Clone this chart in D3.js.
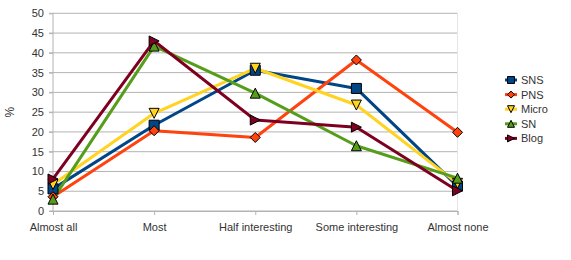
<!DOCTYPE html>
<html>
<head>
<meta charset="utf-8">
<script src="https://cdn.jsdelivr.net/npm/d3@7"></script>
<style>
  body { margin: 0; background: #fff; }
  text { font-family: "Liberation Sans", Arial, sans-serif; fill: #333; }
</style>
</head>
<body>
<svg id="chart" width="571" height="260"></svg>
<script>
// categories and series values
const categories = ['Almost all', 'Most', 'Half interesting', 'Some interesting', 'Almost none'];
const seriesNames = ['SNS', 'PNS', 'Micro', 'SN', 'Blog'];
const sns = [5.6, 21.7, 35.6, 31.0, 6.3];
const pns = [3.6, 20.3, 18.6, 38.2, 19.9];
const micro = [6.7, 24.7, 36.1, 26.8, 7.0];
const sn = [3.0, 41.7, 29.8, 16.5, 8.3];
const blog = [8.1, 43.0, 23.0, 21.2, 5.1];
const yTicks = [0, 5, 10, 15, 20, 25, 30, 35, 40, 45, 50];

const seriesValues = [sns, pns, micro, sn, blog];
const colors = ['#004586', '#ff420e', '#ffd320', '#579d1c', '#7e0021'];
const shapes = ['square', 'diamond', 'down', 'up', 'right'];

const svg = d3.select('#chart');

// plot area
const plotLeft = 53, plotRight = 457.5, plotTop = 13.3, plotBottom = 211;

const x = d3.scalePoint().domain(categories).range([plotLeft, plotRight]);
const y = d3.scaleLinear().domain([0, 50]).range([plotBottom, plotTop]);

// horizontal grid lines
svg.append('g').selectAll('line').data(yTicks).join('line')
  .attr('x1', plotLeft - 4).attr('x2', plotRight)
  .attr('y1', d => y(d)).attr('y2', d => y(d))
  .attr('stroke', '#b3b3b3').attr('stroke-width', 1);

// faint right border
svg.append('line').attr('x1', plotRight).attr('x2', plotRight).attr('y1', plotTop).attr('y2', plotBottom)
  .attr('stroke', '#e6e6e6');

// y axis
const yAxis = d3.axisLeft(y).tickValues(yTicks).tickSize(4).tickPadding(5);
const gy = svg.append('g').attr('transform', 'translate(' + plotLeft + ',0)').call(yAxis);
gy.select('.domain').attr('stroke', '#b3b3b3').attr('d', 'M0,' + plotTop + 'V' + plotBottom);
gy.selectAll('.tick line').attr('stroke', '#b3b3b3');
gy.selectAll('.tick text').attr('font-size', 11).attr('fill', '#333').attr('font-family', '"Liberation Sans", Arial, sans-serif');

// x axis
const xAxis = d3.axisBottom(x).tickSize(4).tickPadding(8);
const gx = svg.append('g').attr('transform', 'translate(0,' + plotBottom + ')').call(xAxis);
gx.select('.domain').attr('stroke', '#b3b3b3');
gx.selectAll('.tick line').attr('stroke', '#b3b3b3');
gx.selectAll('.tick text').attr('font-size', 11).attr('fill', '#333').attr('font-family', '"Liberation Sans", Arial, sans-serif');

// y title
svg.append('text').attr('transform', 'translate(14,' + ((plotTop + plotBottom) / 2) + ') rotate(-90)')
  .attr('text-anchor', 'middle').attr('font-size', 12).text('%');

// marker path for a shape, centred at 0,0
function markerPath(shape, s) {
  const h = s / 2;
  if (shape === 'square') return 'M' + (-h) + ',' + (-h) + 'H' + h + 'V' + h + 'H' + (-h) + 'Z';
  if (shape === 'diamond') return 'M0,' + (-h) + 'L' + h + ',0L0,' + h + 'L' + (-h) + ',0Z';
  if (shape === 'down') return 'M' + (-h) + ',' + (-h) + 'H' + h + 'L0,' + h + 'Z';
  if (shape === 'up') return 'M' + (-h) + ',' + h + 'H' + h + 'L0,' + (-h) + 'Z';
  return 'M' + (-h) + ',' + (-h) + 'L' + h + ',0L' + (-h) + ',' + h + 'Z';
}

const line = d3.line().x((d, i) => x(categories[i])).y(d => y(d));

// lines
seriesValues.forEach((vals, k) => {
  svg.append('path').datum(vals).attr('d', line)
    .attr('fill', 'none').attr('stroke', colors[k]).attr('stroke-width', 3)
    .attr('stroke-linejoin', 'round');
});

// markers
seriesValues.forEach((vals, k) => {
  svg.append('g').selectAll('path').data(vals).join('path')
    .attr('transform', (d, i) => 'translate(' + x(categories[i]) + ',' + y(d) + ')')
    .attr('d', markerPath(shapes[k], 10))
    .attr('fill', colors[k]).attr('stroke', '#000').attr('stroke-width', 1);
});

// legend
const legend = svg.append('g').attr('transform', 'translate(511,80)');
seriesNames.forEach((name, k) => {
  const row = legend.append('g').attr('transform', 'translate(0,' + (k * 14.6) + ')');
  row.append('line').attr('x1', -6).attr('x2', 6).attr('y1', 0).attr('y2', 0)
    .attr('stroke', colors[k]).attr('stroke-width', 3);
  row.append('path').attr('d', markerPath(shapes[k], 7))
    .attr('fill', colors[k]).attr('stroke', '#000').attr('stroke-width', 1);
  row.append('text').attr('x', 10).attr('y', 4).attr('font-size', 11).text(name);
});
</script>
</body>
</html>
